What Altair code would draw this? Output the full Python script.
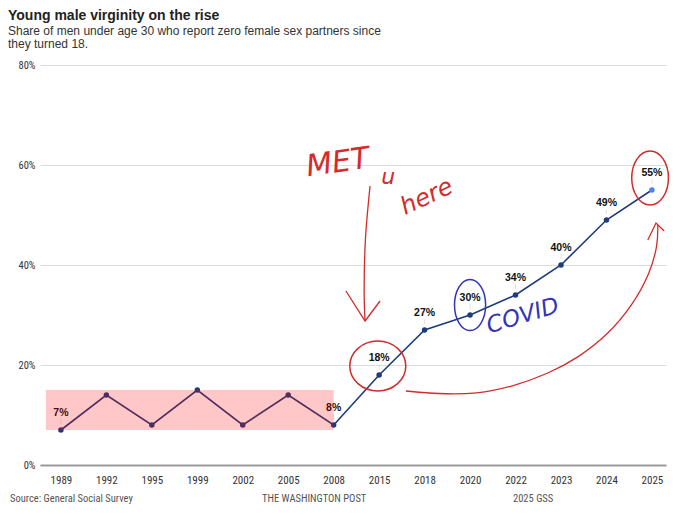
import altair as alt
import pandas as pd

# ---- data ----
years = ['1989', '1992', '1995', '1999', '2002', '2005', '2008',
         '2015', '2018', '2020', '2022', '2023', '2024', '2025']
values = [7, 14, 8, 15, 8, 14, 8, 18, 27, 30, 34, 40, 49, 55]
labeled_years = ['1989', '2008', '2015', '2018', '2020', '2022', '2023', '2024', '2025']

# highlighted band (in x-index / percent units)
band_x = [-0.33, 6]
band_y = [7, 15]

# hand-drawn annotations (x-index / percent units)
red_circles = [(6.97, 19.8, 1.12, 50), (12.96, 57.4, 0.68, 54)]   # idx, value, x-ratio, height
blue_circles = [(9.0, 32.0, 0.61, 51)]
down_arrow = [(6.80, 55.8), (6.70, 45.4), (6.67, 35.4), (6.69, 28.8)]
down_head = [(6.27, 34.8), (6.69, 28.8), (7.02, 32.8)]
curve_arrow = [(7.59, 14.8), (8.29, 14.2), (9.17, 14.2), (9.90, 15.6), (10.71, 18.2),
               (11.37, 21.4), (12.03, 26.0), (12.58, 32.0), (12.96, 38.4), (13.13, 44.0), (13.13, 48.0)]
curve_head = [(12.91, 45.0), (13.09, 48.4), (13.27, 46.8)]
notes = [("MET", 6.09, 60.4, 30, 352, '#d42a2a'),
         ("u", 7.2, 57.6, 22, 0, '#d42a2a'),
         ("here", 8.05, 53.6, 24, 335, '#d42a2a'),
         ("COVID", 10.16, 29.8, 23, 343, '#3333bb')]

title = "Young male virginity on the rise"
subtitle = ["Share of men under age 30 who report zero female sex partners since",
            "they turned 18."]
footer = ["Source: General Social Survey", "THE WASHINGTON POST", "2025 GSS"]

# ---- tables ----
df = pd.DataFrame({
    'idx': list(range(len(years))),
    'year': years,
    'value': values,
})
df['label'] = [f"{v}%" if y in labeled_years else "" for y, v in zip(years, values)]
df['last'] = ['last' if y == years[-1] else 'other' for y in years]

band = pd.DataFrame({'x1': [band_x[0]], 'x2': [band_x[1]], 'y1': [band_y[0]], 'y2': [band_y[1]]})

def stroke_df(points):
    return pd.DataFrame({'idx': [p[0] for p in points], 'value': [p[1] for p in points],
                         'seq': list(range(len(points)))})

FONT = "Liberation Sans"
NARROW = "Liberation Sans Narrow, Roboto Condensed, Liberation Sans"

years_js = "[" + ",".join(f"'{y}'" for y in years) + "]"
x_scale = alt.Scale(domain=[-0.46, 13.31], nice=False, zero=False)
y_scale = alt.Scale(domain=[0, 80], nice=False)
x_axis = alt.Axis(values=list(range(len(years))), labelExpr=f"{years_js}[datum.value]",
                  grid=False, ticks=False, domainColor='#9a9a9a', domainWidth=2,
                  labelPadding=9, labelFontSize=11, labelColor='#333', labelFont=NARROW,
                  title=None)
y_axis = alt.Axis(values=[0, 20, 40, 60, 80], labelExpr="datum.value + '%'",
                  grid=True, gridColor='#dcdcdc', ticks=False, domain=False,
                  labelPadding=5, labelFontSize=10.5, labelColor='#333', labelFont=NARROW,
                  minExtent=32, maxExtent=32, title=None)

def X(f='idx'):
    return alt.X(f'{f}:Q', scale=x_scale, axis=x_axis)

def Y(f='value'):
    return alt.Y(f'{f}:Q', scale=y_scale, axis=y_axis)

base = alt.Chart(df)

line = base.mark_line(color='#1f3c7a', strokeWidth=1.6).encode(x=X(), y=Y(), order='idx:Q')
points = base.mark_point(filled=True, size=30, opacity=1).encode(
    x=X(), y=Y(),
    color=alt.Color('last:N', scale=alt.Scale(domain=['other', 'last'],
                                              range=['#1f3c7a', '#4a86e8']), legend=None))
leaders = base.transform_filter("datum.label != ''").transform_calculate(
    v1="datum.value + 1.2", v2="datum.value + 2.2").mark_rule(color='#e2e2e2', strokeWidth=1).encode(
    x=X(), y=Y('v1'), y2='v2:Q')
labels = base.mark_text(dy=-17, fontWeight='bold', fontSize=10.5, font=FONT, color='#111').encode(
    x=X(), y=Y(), text='label:N')

rect = alt.Chart(band).mark_rect(color='#ff0000', opacity=0.22).encode(
    x=X('x1'), x2='x2:Q', y=Y('y1'), y2='y2:Q')

layers = [line, points, leaders, labels, rect]

# hand-drawn style annotations
def ellipse_path(rx):
    return f"M {-rx} 0 A {rx} 1 0 1 0 {rx} 0 A {rx} 1 0 1 0 {-rx} 0 Z"

for (i, v, rx, h), col in [(c, '#d42a2a') for c in red_circles] + [(c, '#3333bb') for c in blue_circles]:
    layers.append(alt.Chart(pd.DataFrame({'idx': [i], 'value': [v]})).mark_point(
        shape=ellipse_path(rx), size=h * h, filled=False, stroke=col, strokeWidth=1.5, opacity=1).encode(
        x=X(), y=Y()))

for pts, interp in [(down_arrow, 'cardinal'), (down_head, 'linear'),
                    (curve_arrow, 'basis'), (curve_head, 'linear')]:
    layers.append(alt.Chart(stroke_df(pts)).mark_line(
        color='#d42a2a', strokeWidth=1.3, interpolate=interp).encode(
        x=X(), y=Y(), order='seq:Q'))

for txt, i, v, fs, ang, col in notes:
    layers.append(alt.Chart(pd.DataFrame({'idx': [i], 'value': [v], 't': [txt]})).mark_text(
        fontSize=fs, angle=ang, color=col, font="DejaVu Sans", fontWeight=200, fontStyle='italic').encode(
        x=X(), y=Y(), text='t:N'))

# footer
for txt, px in zip(footer, [-30, 222, 473]):
    layers.append(alt.Chart(pd.DataFrame({'t': [txt]})).mark_text(
        align='left', baseline='middle', fontSize=10.5, font=NARROW, color='#555').encode(
        x=alt.value(px), y=alt.value(434), text='t:N'))

chart = alt.layer(*layers).properties(
    width=626, height=400,
    padding={"left": 0, "top": 0, "right": 0, "bottom": 0},
    title=alt.TitleParams(text=title, subtitle=subtitle, anchor='start', frame='bounds',
                          font=FONT, fontSize=14, fontWeight='bold', color='#222',
                          subtitleFont=FONT, subtitleFontSize=12, subtitleColor='#333',
                          subtitleLineHeight=13.5, subtitlePadding=3, offset=10)
).configure_view(stroke=None)

chart.save("out.html", embed_options={"renderer": "svg", "actions": False})
